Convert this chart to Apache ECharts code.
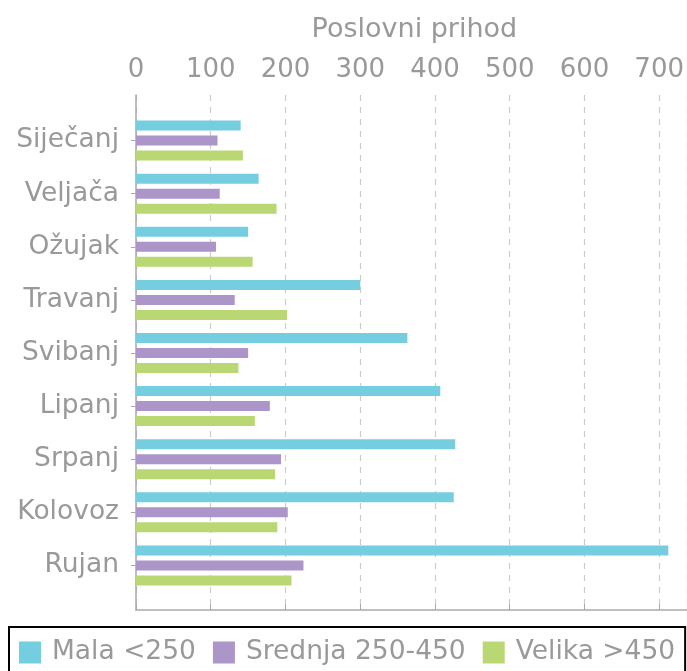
<!DOCTYPE html>
<html lang="hr">
<head>
    <meta charset="UTF-8">
    <title>Poslovni prihod</title>
    <script src="https://cdn.jsdelivr.net/npm/echarts@6/dist/echarts.min.js"></script>
    <style>
        html, body { margin: 0; padding: 0; background: #fff; }
        #chart { width: 687px; height: 671px; }
    </style>
</head>
<body>
<div id="chart"></div>
<script>
    // podaci po mjesecima
    var mjeseci = ['Siječanj', 'Veljača', 'Ožujak', 'Travanj', 'Svibanj', 'Lipanj', 'Srpanj', 'Kolovoz', 'Rujan'];
    var mala = [140, 164, 150, 300, 363, 407, 427, 425, 712];
    var srednja = [109, 112, 107, 132, 150, 179, 194, 203, 224];
    var velika = [143, 188, 156, 202, 137, 159, 186, 189, 208];
    var nazivi = ['Mala <250', 'Srednja 250-450', 'Velika >450'];
    var boje = ['#74cee0', '#ab95c9', '#b9d874'];

    var font = 'DejaVu Sans';
    var siva = '#999999';
    var xMax = 737;

    var myChart = echarts.init(document.getElementById('chart'));

    function serija(ime, podaci, boja) {
        return {
            name: ime,
            type: 'bar',
            xAxisIndex: 0,
            yAxisIndex: 0,
            barWidth: 10,
            barGap: '50%',
            itemStyle: { color: boja },
            data: podaci
        };
    }

    var option = {
        animation: false,
        color: boje,
        legend: {
            data: nazivi,
            left: 9,
            top: 627,
            padding: [12, 10, 16, 10],
            borderColor: '#000',
            borderWidth: 2,
            itemWidth: 22,
            itemHeight: 22,
            itemGap: 17,
            icon: 'rect',
            // mali razmak između kvadratića i teksta
            formatter: function (ime) { return '{r| }' + ime; },
            textStyle: {
                fontFamily: font, fontSize: 26.5, color: siva,
                rich: { r: { width: 6, fontSize: 26.5 } }
            }
        },
        grid: [
            // mreža za stupce (širina ide malo preko ruba)
            { left: 136, width: 553, top: 114, bottom: 79 },
            // mreža za os s oznakama i crte
            { left: 136, width: 553, top: 95, bottom: 61 }
        ],
        xAxis: [
            { gridIndex: 0, type: 'value', min: 0, max: xMax, show: false },
            {
                gridIndex: 1,
                type: 'value',
                position: 'top',
                min: 0,
                max: xMax,
                interval: 100,
                name: 'Poslovni prihod',
                nameLocation: 'middle',
                nameGap: 52,
                nameTextStyle: { fontFamily: font, fontSize: 27, color: siva, padding: [0, 0, 0, 6] },
                axisLine: { show: true, lineStyle: { color: '#aaaaaa', width: 1.5 } },
                axisTick: { show: true, length: 6, lineStyle: { color: '#aaaaaa' } },
                axisLabel: { fontFamily: font, fontSize: 26, color: siva, margin: 12, showMaxLabel: false },
                splitLine: { show: true, lineStyle: { color: '#cccccc', type: [6, 6], width: 1.2 } }
            }
        ],
        yAxis: [
            {
                gridIndex: 0,
                type: 'category',
                inverse: true,
                data: mjeseci,
                axisLine: { show: false },
                axisTick: { show: true, alignWithLabel: true, length: 5, lineStyle: { color: '#aaaaaa' } },
                axisLabel: { fontFamily: font, fontSize: 26.5, color: siva, margin: 17 },
                splitLine: { show: false }
            },
            {
                gridIndex: 1,
                type: 'value',
                min: 0,
                max: 1,
                axisLine: { show: true, lineStyle: { color: '#aaaaaa', width: 1.5 } },
                axisTick: { show: false },
                axisLabel: { show: false },
                splitLine: { show: false }
            }
        ],
        series: [
            serija(nazivi[0], mala, boje[0]),
            serija(nazivi[1], srednja, boje[1]),
            serija(nazivi[2], velika, boje[2])
        ]
    };

    myChart.setOption(option);
</script>
</body>
</html>
